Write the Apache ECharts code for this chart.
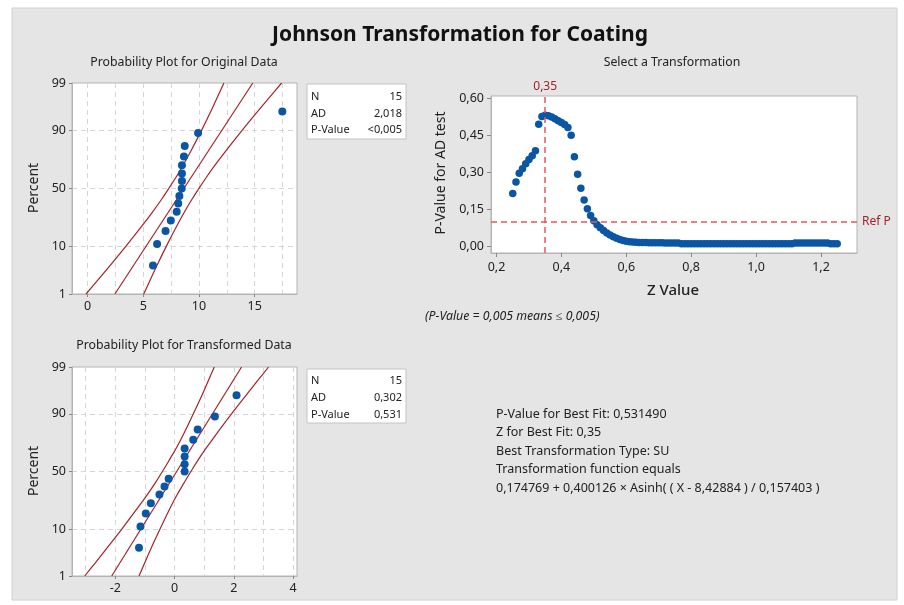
<!DOCTYPE html>
<html><head><meta charset="utf-8">
<script src="https://cdn.jsdelivr.net/npm/echarts@6/dist/echarts.min.js"></script>
<style>html,body{margin:0;padding:0;background:#fff;} #c{width:904px;height:605px;}</style>
</head><body><div id="c"></div>
<script>
// ---------- data ----------
const rankPct = [4.5, 11.0, 17.5, 24.0, 30.5, 37.0, 43.5, 50.0, 56.5, 63.0, 69.5, 76.0, 82.5, 89.0, 95.5];
const origX = [5.87, 6.24, 7.00, 7.47, 8.00, 8.14, 8.24, 8.45, 8.47, 8.47, 8.47, 8.65, 8.72, 9.92, 17.48];
const transX = [-1.20, -1.15, -0.97, -0.80, -0.51, -0.34, -0.20, 0.34, 0.34, 0.34, 0.34, 0.63, 0.78, 1.36, 2.09];
const ciPct = [1, 2, 5, 10, 20, 30, 40, 50, 60, 70, 80, 90, 95, 98, 99];
const origLowerX = [-0.14, 0.80, 2.20, 3.41, 4.83, 5.81, 6.60, 7.29, 7.95, 8.60, 9.31, 10.23, 10.95, 11.73, 12.24];
const origUpperX = [5.04, 5.55, 6.33, 7.05, 7.97, 8.68, 9.33, 9.99, 10.68, 11.47, 12.45, 13.87, 15.08, 16.48, 17.42];
const transLowerX = [-3.03, -2.70, -2.21, -1.78, -1.28, -0.93, -0.65, -0.41, -0.18, 0.06, 0.31, 0.63, 0.89, 1.16, 1.34];
const transUpperX = [-1.20, -1.02, -0.75, -0.49, -0.17, 0.08, 0.32, 0.55, 0.79, 1.07, 1.42, 1.92, 2.35, 2.84, 3.17];
const fitPct = [1, 99];
const origFitX = [2.45, 14.83];
const transFitX = [-2.12, 2.26];
const probLabels = [1, 10, 50, 90, 99];
const probGrid = [10, 50, 90];
const origXLabels = [0, 5, 10, 15];
const origXGrid = [0, 2.5, 5, 7.5, 10, 12.5, 15, 17.5];
const transXLabels = [-2, 0, 2, 4];
const transXGrid = [-3, -2, -1, 0, 1, 2, 3, 4];
const zValues = [0.25,0.26,0.27,0.28,0.29,0.30,0.31,0.32,0.33,0.34,0.35,0.36,0.37,0.38,0.39,0.40,0.41,0.42,0.43,0.44,0.45,0.46,0.47,0.48,0.49,0.50,0.51,0.52,0.53,0.54,0.55,0.56,0.57,0.58,0.59,0.60,0.61,0.62,0.63,0.64,0.65,0.66,0.67,0.68,0.69,0.70,0.71,0.72,0.73,0.74,0.75,0.76,0.77,0.78,0.79,0.80,0.81,0.82,0.83,0.84,0.85,0.86,0.87,0.88,0.89,0.90,0.91,0.92,0.93,0.94,0.95,0.96,0.97,0.98,0.99,1.00,1.01,1.02,1.03,1.04,1.05,1.06,1.07,1.08,1.09,1.10,1.11,1.12,1.13,1.14,1.15,1.16,1.17,1.18,1.19,1.20,1.21,1.22,1.23,1.24,1.25];
const pValues = [0.214,0.261,0.296,0.315,0.335,0.352,0.367,0.388,0.495,0.526,
  0.531,0.529,0.524,0.517,0.509,0.502,0.494,0.482,0.450,0.363,
  0.292,0.235,0.188,0.152,0.125,0.104,0.088,0.075,0.064,0.054,
  0.046,0.039,0.033,0.028,0.024,0.021,0.019,0.018,0.017,
  0.016,0.016,0.016,0.015,0.015,0.015,0.015,0.015,0.014,0.014,0.014,0.014,0.014,
  0.010,0.010,0.010,0.010,0.010,0.010,0.010,0.010,0.010,0.010,0.010,0.010,0.010,0.010,0.010,0.010,0.010,0.010,0.010,0.010,0.010,0.010,0.010,0.010,0.010,0.010,0.010,0.010,0.010,0.010,0.010,0.010,0.010,0.010,0.010,
  0.014,0.014,0.014,0.014,0.014,0.014,0.014,0.014,0.014,0.014,0.014,
  0.011,0.011,0.010];
const zTicks = [0.2, 0.4, 0.6, 0.8, 1.0, 1.2];
const pTicks = [0, 0.15, 0.30, 0.45, 0.60];
const bestZ = 0.35;
const refP = 0.10;
const origStats = [['N', '15'], ['AD', '2,018'], ['P-Value', '<0,005']];
const transStats = [['N', '15'], ['AD', '0,302'], ['P-Value', '0,531']];
const summaryLines = [
  'P-Value for Best Fit: 0,531490',
  'Z for Best Fit: 0,35',
  'Best Transformation Type: SU',
  'Transformation function equals',
  '0,174769 + 0,400126 × Asinh( ( X - 8,42884 ) / 0,157403 )'
];

// ---------- normal probability scale ----------
function probit(p) {
  const a = [-3.969683028665376e+01, 2.209460984245205e+02, -2.759285104469687e+02, 1.383577518672690e+02, -3.066479806614716e+01, 2.506628277459239e+00];
  const b = [-5.447609879822406e+01, 1.615858368580409e+02, -1.556989798598866e+02, 6.680131188771972e+01, -1.328068155288572e+01];
  const c = [-7.784894002430293e-03, -3.223964580411365e-01, -2.400758277161838e+00, -2.549732539343734e+00, 4.374664141464968e+00, 2.938163982698783e+00];
  const d = [7.784695709041462e-03, 3.224671290700398e-01, 2.445134137142996e+00, 3.754408661907416e+00];
  const pl = 0.02425;
  let q, r;
  if (p < pl) {
    q = Math.sqrt(-2 * Math.log(p));
    return (((((c[0]*q+c[1])*q+c[2])*q+c[3])*q+c[4])*q+c[5]) / ((((d[0]*q+d[1])*q+d[2])*q+d[3])*q+1);
  } else if (p <= 1 - pl) {
    q = p - 0.5; r = q*q;
    return (((((a[0]*r+a[1])*r+a[2])*r+a[3])*r+a[4])*r+a[5])*q / (((((b[0]*r+b[1])*r+b[2])*r+b[3])*r+b[4])*r+1);
  } else {
    q = Math.sqrt(-2 * Math.log(1 - p));
    return -(((((c[0]*q+c[1])*q+c[2])*q+c[3])*q+c[4])*q+c[5]) / ((((d[0]*q+d[1])*q+d[2])*q+d[3])*q+1);
  }
}
const pz = pc => probit(pc / 100);
const zMin = pz(1), zMax = pz(99);
function probLabel(v) {
  for (const p of probLabels) if (Math.abs(pz(p) - v) < 1e-6) return String(p);
  return '';
}
const pairs = (xs, ps) => xs.map((x, i) => [x, pz(ps[i])]);

// ---------- styles ----------
const FONT = 'Noto Sans';
const TXT = '#222';
const BLUE = '#0b56a4';
const DARKRED = '#a3242a';
const REFRED = '#e8575c';
const BORDER = '#b4b4b4';
const GRIDC = '#d6d6d6';

function probAxes(gridIndex, min, max, gridVals, labelVals) {
  const x = [
    { type: 'value', gridIndex, min, max, position: 'bottom',
      axisLine: { show: true, onZero: false, lineStyle: { color: BORDER } },
      axisTick: { show: false, customValues: gridVals },
      axisLabel: { show: false },
      splitLine: { show: true, lineStyle: { color: GRIDC, type: [5, 4], width: 1 } } },
    { type: 'value', gridIndex, min, max, position: 'bottom',
      axisLine: { show: false, onZero: false },
      axisTick: { show: true, length: 3, customValues: labelVals, lineStyle: { color: '#888' } },
      axisLabel: { show: true, customValues: labelVals, margin: 6, color: TXT, fontFamily: FONT, fontSize: 12.5 },
      splitLine: { show: false } }
  ];
  const y = [
    { type: 'value', gridIndex, min: zMin, max: zMax, position: 'left',
      axisLine: { show: true, onZero: false, lineStyle: { color: BORDER } },
      axisTick: { show: false, customValues: probGrid.map(pz) },
      axisLabel: { show: false },
      splitLine: { show: true, lineStyle: { color: GRIDC, type: [5, 4], width: 1 } } },
    { type: 'value', gridIndex, min: zMin, max: zMax, position: 'left',
      axisLine: { show: false, onZero: false },
      axisTick: { show: true, length: 3, customValues: probLabels.map(pz), lineStyle: { color: '#888' } },
      axisLabel: { show: true, customValues: probLabels.map(pz), margin: 6, formatter: probLabel, color: TXT, fontFamily: FONT, fontSize: 12.5 },
      splitLine: { show: false } }
  ];
  return { x, y };
}
const A0 = probAxes(0, -1.4, 18.8, origXGrid, origXLabels);
const A1 = probAxes(1, -3.46, 4.13, transXGrid, transXLabels);

const lineS = (xi, yi, data) => ({ type: 'line', xAxisIndex: xi, yAxisIndex: yi, data, smooth: 0.4, showSymbol: false, symbol: 'none',
  lineStyle: { color: DARKRED, width: 1.2 }, silent: true, z: 2 });
const ptS = (xi, yi, data) => ({ type: 'scatter', xAxisIndex: xi, yAxisIndex: yi, data, symbolSize: 8,
  itemStyle: { color: BLUE, opacity: 1 }, z: 3 });

const decimal = (v, n) => v.toFixed(n).replace('.', ',');

function text(x, y, s, opt) {
  return Object.assign({ type: 'text', x, y, silent: true,
    style: Object.assign({ text: s, fill: TXT, font: '11px "' + FONT + '"', textAlign: 'left', textVerticalAlign: 'middle' }, opt || {}) });
}
function statsBox(x, y, w, h, rows, rowY) {
  const els = [{ type: 'rect', shape: { x, y, width: w, height: h }, style: { fill: '#ffffff', stroke: '#c4c4c4', lineWidth: 1 } }];
  rows.forEach((r, i) => {
    els.push(text(x + 4, rowY[i], r[0]));
    els.push(text(x + w - 4, rowY[i], r[1], { textAlign: 'right' }));
  });
  return els;
}
const F = (s) => s + ' "' + FONT + '"';

const graphics = [
  { type: 'rect', z: -10, shape: { x: 12, y: 8, width: 885, height: 592 }, style: { fill: '#e5e5e5', stroke: '#d0d0d0', lineWidth: 1 } },
  text(460, 35, 'Johnson Transformation for Coating', { font: F('bold 21px'), textAlign: 'center', fill: '#111' }),
  text(184, 62, 'Probability Plot for Original Data', { textAlign: 'center', font: F('12.3px') }),
  text(672, 62, 'Select a Transformation', { textAlign: 'center', font: F('12.3px') }),
  text(184, 345, 'Probability Plot for Transformed Data', { textAlign: 'center', font: F('12.3px') }),
  Object.assign(text(34, 188, 'Percent', { textAlign: 'center', font: F('14px') }), { rotation: Math.PI / 2 }),
  Object.assign(text(34, 471, 'Percent', { textAlign: 'center', font: F('14px') }), { rotation: Math.PI / 2 }),
  Object.assign(text(441, 173, 'P-Value for AD test', { textAlign: 'center', font: F('14px') }), { rotation: Math.PI / 2 }),
  text(673, 291, 'Z Value', { textAlign: 'center', font: F('500 15px') }),
  text(425, 316, '(P-Value = 0,005 means ≤ 0,005)', { font: F('italic 12.3px') }),
  ...statsBox(307, 84, 99, 55, origStats, [97, 113.5, 130]),
  ...statsBox(307, 369, 99, 54, transStats, [381, 398, 414.5]),
  ...summaryLines.map((s, i) => text(496, 414 + i * 18.6, s, { font: F('12.5px') }))
];

const chart = echarts.init(document.getElementById('c'), null, { renderer: 'canvas' });
chart.setOption({
  animation: false,
  backgroundColor: '#ffffff',
  textStyle: { fontFamily: FONT },
  graphic: { elements: graphics },
  grid: [
    { left: 72, top: 83, width: 225, height: 211, show: true, backgroundColor: '#fff', borderColor: BORDER, borderWidth: 1, containLabel: false, outerBoundsMode: 'none' },
    { left: 72, top: 367, width: 225, height: 209, show: true, backgroundColor: '#fff', borderColor: BORDER, borderWidth: 1, containLabel: false, outerBoundsMode: 'none' },
    { left: 491, top: 96, width: 366, height: 157, show: true, backgroundColor: '#fff', borderColor: BORDER, borderWidth: 1, containLabel: false, outerBoundsMode: 'none' }
  ],
  xAxis: [
    ...A0.x, ...A1.x,
    { type: 'value', gridIndex: 2, min: 0.183, max: 1.311, position: 'bottom',
      axisLine: { show: true, onZero: false, lineStyle: { color: BORDER } },
      axisTick: { show: true, length: 4, customValues: zTicks, lineStyle: { color: '#888' } },
      axisLabel: { customValues: zTicks, margin: 8, color: TXT, fontFamily: FONT, fontSize: 12.5, formatter: v => decimal(v, 1) },
      splitLine: { show: false } }
  ],
  yAxis: [
    ...A0.y, ...A1.y,
    { type: 'value', gridIndex: 2, min: -0.027, max: 0.6095, position: 'left',
      axisLine: { show: true, onZero: false, lineStyle: { color: BORDER } },
      axisTick: { show: true, length: 4, customValues: pTicks, lineStyle: { color: '#888' } },
      axisLabel: { customValues: pTicks, margin: 7, color: TXT, fontFamily: FONT, fontSize: 12.5, formatter: v => decimal(v, 2) },
      splitLine: { show: false } }
  ],
  series: [
    lineS(0, 0, pairs(origLowerX, ciPct)),
    lineS(0, 0, pairs(origUpperX, ciPct)),
    lineS(0, 0, pairs(origFitX, fitPct)),
    ptS(0, 0, pairs(origX, rankPct)),
    lineS(2, 2, pairs(transLowerX, ciPct)),
    lineS(2, 2, pairs(transUpperX, ciPct)),
    lineS(2, 2, pairs(transFitX, fitPct)),
    ptS(2, 2, pairs(transX, rankPct)),
    { type: 'scatter', xAxisIndex: 4, yAxisIndex: 4, data: zValues.map((z, i) => [z, pValues[i]]), symbolSize: 7.5,
      itemStyle: { color: BLUE, opacity: 1 }, z: 3,
      markLine: { silent: true, symbol: 'none', animation: false,
        lineStyle: { color: REFRED, type: [6, 4], width: 1.5 },
        data: [
          { xAxis: bestZ, label: { show: true, position: 'end', formatter: decimal(bestZ, 2), color: DARKRED, fontFamily: FONT, fontSize: 12, distance: 3 } },
          { yAxis: refP, label: { show: true, position: 'end', formatter: 'Ref P', color: DARKRED, fontFamily: FONT, fontSize: 12, distance: 5 } }
        ] } }
  ]
});
</script></body></html>
